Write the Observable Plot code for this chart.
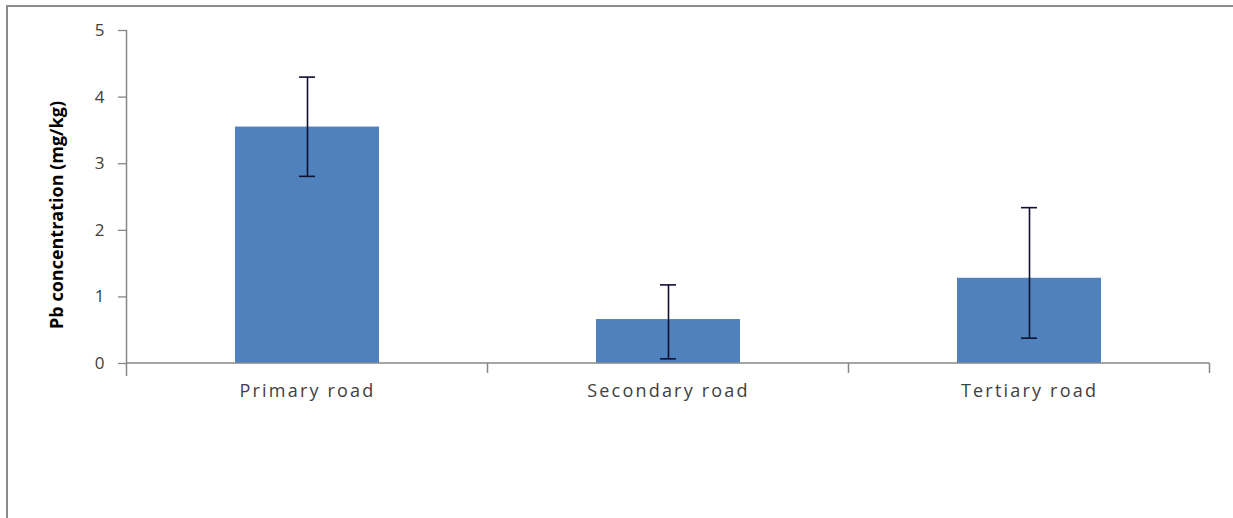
<!DOCTYPE html>
<html><head><meta charset="utf-8">
<script src="https://cdn.jsdelivr.net/npm/d3@7"></script>
<script src="https://cdn.jsdelivr.net/npm/@observablehq/plot@0.6"></script>
<style>
html,body{margin:0;padding:0;background:#fff;}
#wrap{position:relative;width:1233px;height:518px;overflow:hidden;background:#fff;}
#frame{position:absolute;left:6px;top:5px;width:1240px;height:540px;border:2px solid #8c8c8c;pointer-events:none;}
#chart{position:absolute;left:0;top:0;}
</style></head><body>
<div id="wrap"><div id="frame"></div><div id="chart"></div></div>
<script>
const categories = ["Primary road", "Secondary road", "Tertiary road"];
const means = [3.55, 0.66, 1.28];
const errLow = [2.81, 0.07, 0.38];
const errHigh = [4.30, 1.18, 2.34];
const yTicks = [0, 1, 2, 3, 4, 5];
const yLabel = "Pb concentration (mg/kg)";

const data = categories.map((c, i) => ({cat: c, mean: means[i], lo: errLow[i], hi: errHigh[i]}));

function axisLines(index, scales) {
  const x = scales.x, y = scales.y;
  const bw = x.bandwidth ? x.bandwidth() : 0;
  const step = x(categories[1]) - x(categories[0]);
  const pad = (step - bw) / 2;
  const xs = categories.map(c => x(c) - pad);
  xs.push(x(categories[categories.length - 1]) + bw + pad);
  const g = d3.create("svg:g").attr("stroke", "#878787").attr("stroke-width", 1.5).attr("fill", "none");
  g.append("line").attr("x1", xs[0]).attr("x2", xs[0]).attr("y1", y(d3.max(yTicks))).attr("y2", y(0) + 13);
  xs.slice(1).forEach(px => g.append("line").attr("x1", px).attr("x2", px).attr("y1", y(0)).attr("y2", y(0) + 10));
  g.append("line").attr("x1", xs[0]).attr("x2", xs[xs.length - 1]).attr("y1", y(0)).attr("y2", y(0));
  return g.node();
}

const chart = Plot.plot({
  width: 1233,
  height: 518,
  marginLeft: 127,
  marginRight: 23,
  marginTop: 30,
  marginBottom: 155,
  style: {fontFamily: "'Open Sans', sans-serif", background: "transparent"},
  x: {domain: categories, paddingInner: 0.6, paddingOuter: 0.3},
  y: {domain: [0, 5]},
  marks: [
    Plot.barY(data, {x: "cat", y: "mean", fill: "#4f81bd"}),
    Plot.ruleX(data, {x: "cat", y1: "lo", y2: "hi", stroke: "#101030", strokeWidth: 1.6}),
    Plot.tickY(data, {x: "cat", y: "hi", stroke: "#101030", strokeWidth: 1.6, insetLeft: 64, insetRight: 64}),
    Plot.tickY(data, {x: "cat", y: "lo", stroke: "#101030", strokeWidth: 1.6, insetLeft: 64, insetRight: 64}),
    Plot.axisY({ticks: yTicks, tickFormat: d3.format("d"), tickSize: 9, tickPadding: 14, fontSize: 17, color: "#404040",
      label: yLabel, labelAnchor: "center", labelOffset: 77}),
    Plot.axisX({tickSize: 0, tickPadding: 21, fontSize: 18, color: "#404040", label: null}),
    axisLines
  ]
});
document.getElementById("chart").appendChild(chart);
d3.select(chart).selectAll('[aria-label="y-axis tick"]').attr("stroke", "#878787").attr("stroke-width", 1.3);
const lab = d3.select(chart).selectAll('[aria-label="y-axis label"]');
lab.attr("font-weight", "bold").attr("font-size", 18).attr("fill", "#000")
  .selectAll("text").text(yLabel);
lab.attr("transform", function() { const t = this.getAttribute("transform") || ""; return t + " translate(0,18)"; });
d3.select(chart).selectAll('[aria-label="x-axis tick label"]').attr("letter-spacing", "2.2px");
</script>
</body></html>
